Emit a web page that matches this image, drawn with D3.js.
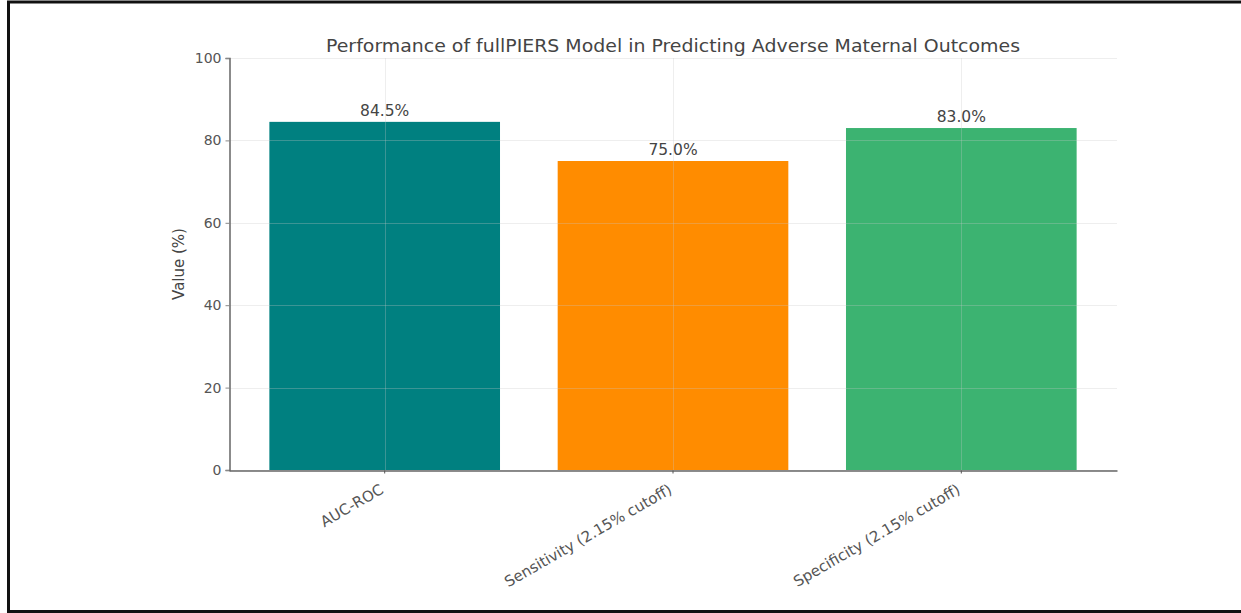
<!DOCTYPE html>
<html>
<head>
<meta charset="utf-8">
<script src="https://cdn.jsdelivr.net/npm/d3@7"></script>
<style>
  html, body { margin: 0; padding: 0; background: #fff; }
  svg { display: block; }
  text { font-family: "DejaVu Sans", sans-serif; }
</style>
</head>
<body>
<svg id="chart" width="1241" height="613"></svg>
<script>
// Metrics of the fullPIERS model
const categories = ["AUC-ROC", "Sensitivity (2.15% cutoff)", "Specificity (2.15% cutoff)"];
const values = [84.5, 75.0, 83.0];
const barColors = ["#008080", "#ff8c00", "#3cb371"];
const yTicks = [0, 20, 40, 60, 80, 100];
const title = "Performance of fullPIERS Model in Predicting Adverse Maternal Outcomes";
const yLabel = "Value (%)";

const svg = d3.select("#chart");
const W = 1241, H = 613;
const plot = { left: 229, right: 1117, top: 58, bottom: 470 };

// frame around the figure (left, top, bottom edges)
svg.append("path")
  .attr("d", `M8.5,${H} L8.5,2 L${W},2 M8.5,611.5 L${W},611.5`)
  .attr("fill", "none").attr("stroke", "#111").attr("stroke-width", 3);

const x = d3.scaleBand()
  .domain(categories)
  .range([plot.left, plot.right])
  .paddingInner(0.2)
  .paddingOuter(0.14);

const y = d3.scaleLinear().domain([0, 100]).range([plot.bottom, plot.top]);

// bars
svg.append("g").selectAll("rect")
  .data(categories)
  .join("rect")
  .attr("x", d => x(d))
  .attr("width", x.bandwidth())
  .attr("y", (d, i) => y(values[i]))
  .attr("height", (d, i) => y(0) - y(values[i]))
  .attr("fill", (d, i) => barColors[i]);

// grid lines (drawn over the bars, faint)
const grid = svg.append("g").attr("stroke", "#c8c8c8").attr("stroke-opacity", 0.3).attr("stroke-width", 1);
grid.selectAll("line.h")
  .data(yTicks)
  .join("line")
  .attr("class", "h")
  .attr("x1", plot.left).attr("x2", plot.right)
  .attr("y1", d => Math.round(y(d)) + 0.5).attr("y2", d => Math.round(y(d)) + 0.5);
grid.selectAll("line.v")
  .data(categories)
  .join("line")
  .attr("class", "v")
  .attr("x1", d => Math.round(x(d) + x.bandwidth() / 2) + 0.5)
  .attr("x2", d => Math.round(x(d) + x.bandwidth() / 2) + 0.5)
  .attr("y1", plot.top).attr("y2", plot.bottom);

// value labels
svg.append("g").selectAll("text")
  .data(categories)
  .join("text")
  .attr("x", d => x(d) + x.bandwidth() / 2)
  .attr("y", (d, i) => y(values[i]) - 6)
  .attr("text-anchor", "middle")
  .attr("font-size", 15.5)
  .attr("fill", "#444")
  .text((d, i) => values[i].toFixed(1) + "%");

// y axis
const yAxis = svg.append("g")
  .attr("transform", `translate(${plot.left + 0.5},0)`)
  .call(d3.axisLeft(y).tickValues(yTicks).tickSize(4).tickPadding(4));
yAxis.select(".domain").attr("stroke", "#666").attr("stroke-width", 1.5);
yAxis.selectAll(".tick line").attr("stroke", "#888");
yAxis.selectAll(".tick text").attr("font-size", 14).attr("fill", "#555")
  .style("font-family", "DejaVu Sans, sans-serif");

// x axis
const xAxis = svg.append("g")
  .attr("transform", `translate(0,${plot.bottom + 0.5})`)
  .call(d3.axisBottom(x).tickSize(3).tickPadding(4).tickSizeOuter(0));
xAxis.select(".domain").attr("stroke", "#666").attr("stroke-width", 1.5);
xAxis.selectAll(".tick line").attr("stroke", "#555");
xAxis.selectAll(".tick text")
  .attr("font-size", 15).attr("fill", "#555")
  .style("font-family", "DejaVu Sans, sans-serif")
  .attr("text-anchor", "end")
  .attr("x", 0).attr("y", 0).attr("dy", 0)
  .attr("transform", "translate(0,22) rotate(-30)");

// y axis title
svg.append("text")
  .attr("transform", `translate(184,${(plot.top + plot.bottom) / 2}) rotate(-90)`)
  .attr("text-anchor", "middle")
  .attr("font-size", 15)
  .attr("fill", "#444")
  .text(yLabel);

// chart title
svg.append("text")
  .attr("x", (plot.left + plot.right) / 2)
  .attr("y", 52)
  .attr("text-anchor", "middle")
  .attr("font-size", 18)
  .attr("textLength", 694)
  .attr("lengthAdjust", "spacingAndGlyphs")
  .attr("fill", "#444")
  .text(title);
</script>
</body>
</html>
